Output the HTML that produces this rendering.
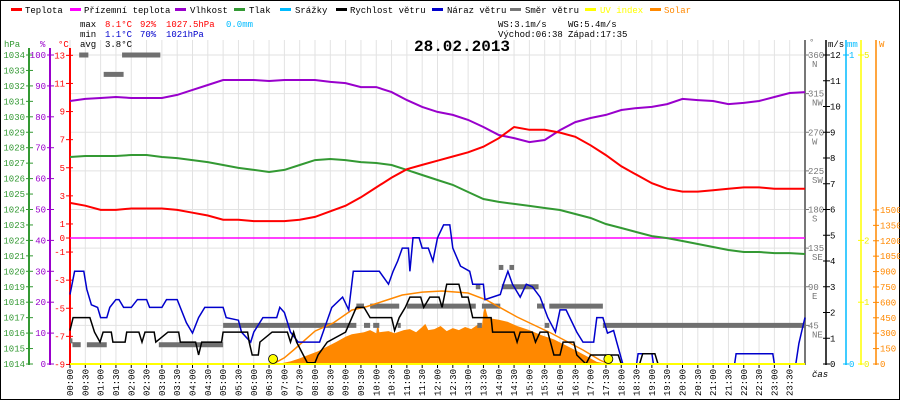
<!DOCTYPE html>
<html><head><meta charset="utf-8"><style>
html,body{margin:0;padding:0;background:#fff}
svg{display:block}
text{font-family:"Liberation Mono",monospace;font-size:9px}
</style></head><body>
<svg id="c" width="900" height="400" viewBox="0 0 900 400" xmlns="http://www.w3.org/2000/svg">
<rect x="0.5" y="0.5" width="899" height="399" fill="#fff" stroke="#000"/>
<g id="grid"></g>
<g id="legend">
<rect x="11" y="8" width="11" height="3" fill="#f00"/><text x="25" y="13">Teplota</text>
<rect x="70" y="8" width="11" height="3" fill="#f0f"/><text x="84" y="13">Přízemní teplota</text>
<rect x="175" y="8" width="11" height="3" fill="#90c"/><text x="190" y="13">Vlhkost</text>
<rect x="234" y="8" width="11" height="3" fill="#393"/><text x="249" y="13">Tlak</text>
<rect x="280" y="8" width="11" height="3" fill="#0bf"/><text x="295" y="13">Srážky</text>
<rect x="336" y="8" width="11" height="3" fill="#000"/><text x="350" y="13">Rychlost větru</text>
<rect x="432" y="8" width="11" height="3" fill="#00c"/><text x="447" y="13">Náraz větru</text>
<rect x="510" y="8" width="11" height="3" fill="#777"/><text x="525" y="13">Směr větru</text>
<rect x="585" y="8" width="11" height="3" fill="#ff0"/><text x="600" y="13" fill="#ff0">UV index</text>
<rect x="650" y="8" width="11" height="3" fill="#f80"/><text x="664" y="13" fill="#f80">Solar</text>
</g>
<g id="stats">
<text x="80" y="27">max</text><text x="105" y="27" fill="#f00">8.1°C</text><text x="140" y="27" fill="#f00">92%</text><text x="166" y="27" fill="#f00">1027.5hPa</text><text x="226" y="27" fill="#0bf">0.0mm</text>
<text x="80" y="37">min</text><text x="105" y="37" fill="#00c">1.1°C</text><text x="140" y="37" fill="#00c">70%</text><text x="166" y="37" fill="#00c">1021hPa</text>
<text x="80" y="47">avg</text><text x="105" y="47">3.8°C</text>
<text x="498" y="27">WS:3.1m/s</text><text x="568" y="27">WG:5.4m/s</text>
<text x="498" y="37">Východ:06:38</text><text x="568" y="37">Západ:17:35</text>
</g>
<text x="414" y="51" style="font-size:16px;font-weight:bold">28.02.2013</text>
<g id="axes"></g>
<g id="series"></g>
</svg>
<script>
const halfHours = Array.from({length:49},(_,i)=>i/2);
const tempValues=[2.5,2.3,2.0,2.0,2.1,2.1,2.1,2.0,1.8,1.6,1.3,1.3,1.2,1.2,1.2,1.3,1.5,1.9,2.3,2.9,3.6,4.3,4.9,5.2,5.5,5.8,6.1,6.5,7.1,7.9,7.7,7.7,7.5,7.2,6.6,5.9,5.1,4.5,3.9,3.5,3.3,3.3,3.4,3.5,3.6,3.6,3.5,3.5,3.5];
const humValues=[85.1,85.8,86.1,86.4,86.1,86.1,86.1,87.1,88.7,90.3,91.9,91.9,91.9,91.6,91.9,91.9,91.9,91.3,90.9,89.6,89.6,88.0,85.4,83.2,81.6,80.6,79.0,76.7,74.1,73.1,71.8,72.5,75.7,78.3,79.6,80.6,82.2,82.8,83.2,84.1,85.8,85.4,85.1,84.1,84.5,85.1,86.4,87.7,88.0];
const pressValues=[1027.4,1027.46,1027.46,1027.46,1027.53,1027.53,1027.4,1027.33,1027.2,1027.07,1026.88,1026.69,1026.56,1026.43,1026.56,1026.88,1027.2,1027.27,1027.2,1027.07,1027.01,1026.88,1026.56,1026.23,1025.91,1025.59,1025.13,1024.68,1024.49,1024.36,1024.23,1024.1,1023.97,1023.71,1023.45,1023.06,1022.8,1022.54,1022.28,1022.15,1021.96,1021.77,1021.57,1021.38,1021.25,1021.25,1021.18,1021.18,1021.12];
const groundTemp=0;
const speedTimes=[0,0.1,0.65,0.8,0.98,1.08,1.35,1.4,1.8,1.85,2.25,2.35,2.45,2.75,2.8,3.2,3.55,3.6,4.1,4.2,4.3,4.95,5.0,5.8,5.85,5.95,6.15,6.2,6.6,7.1,7.2,7.3,7.4,7.75,8.0,8.1,8.4,9.0,9.35,9.6,9.8,10.0,10.5,10.6,10.75,10.95,11.1,11.45,11.55,11.75,12.05,12.15,12.3,12.7,12.8,13.0,13.15,13.75,13.8,14.5,14.6,14.7,15.1,15.2,15.35,15.6,15.8,16.0,16.1,16.45,16.55,16.85,17.0,17.9,18.0,18.6,18.7,19.1,19.2,24];
const speedValues=[1.3,1.8,1.8,1.24,0.85,1.24,1.24,0.85,0.85,1.24,1.24,0.85,1.24,1.24,0.85,1.24,1.24,0.85,0.85,0.35,0.85,0.85,1.24,1.24,0.85,0.35,0.35,0.85,1.24,1.24,0.85,1.24,0.85,0.05,0.05,0.35,0.85,1.24,2.2,2.2,1.8,1.8,1.8,1.3,1.8,2.2,2.6,2.6,2.2,2.6,2.6,2.2,3.1,3.1,2.6,2.6,1.8,1.8,1.24,1.24,0.85,1.24,1.24,0.85,1.24,1.24,0.35,0.35,0.85,0.85,0.35,0,0.35,0.35,0,0,0.4,0.4,0,0];
const gustTimes=[0,0.15,0.45,0.55,0.7,0.9,1.0,1.2,1.3,1.5,1.6,1.75,2.0,2.2,2.5,2.6,3.0,3.15,3.5,3.8,4.0,4.2,4.4,5.0,5.1,5.5,5.6,5.9,6.0,6.3,6.75,6.85,7.0,7.2,7.45,7.75,8.15,8.55,8.9,9.1,9.25,10.1,10.4,10.55,10.7,10.85,11.05,11.1,11.2,11.4,11.5,11.7,11.85,12.0,12.2,12.4,12.5,12.75,13.05,13.15,13.5,13.55,14.05,14.15,14.3,14.45,14.7,14.9,15.1,15.35,15.6,15.85,16.0,16.2,16.55,16.75,17.1,17.2,17.4,17.55,17.75,17.85,18.05,18.5,18.55,19.0,19.05,21.7,21.75,22.95,23.0,23.7,23.8,23.9,24];
const gustValues=[2.7,3.6,3.6,2.9,2.3,2.2,1.8,1.8,2.2,2.5,2.5,2.2,2.2,2.5,2.5,2.2,2.2,2.5,2.5,1.6,1.2,1.8,2.2,2.2,1.8,1.7,1.24,0.85,1.24,1.8,1.8,2.2,2.0,1.24,0.85,0.85,0.85,2.2,2.6,2.1,3.6,3.6,3.1,3.6,4.0,4.5,4.5,3.6,4.9,4.9,4.5,4.5,4.0,4.9,5.4,5.4,4.5,3.8,3.6,3.1,3.1,2.5,2.7,3.1,3.6,3.1,2.6,3.1,3.0,2.6,1.8,1.24,2.1,2.1,1.24,0.85,0.85,1.8,1.8,1.2,1.3,0.85,0,0,0.4,0.4,0,0,0.4,0.4,0,0,0.8,1.3,1.8];
const dirStart=[0,0.08,0.55,2.9,5.0,9.6,9.9,10.7,9.35,9.8,11.0,13.45,15.25,15.65,13.3,15.5,17.4,13.25,14.1,14.0,14.35,0.3,1.7,1.1];
const dirEnd=[0.08,0.35,1.2,5.0,9.35,9.8,10.1,10.8,9.6,10.75,13.25,14.05,15.5,17.4,13.45,15.65,24,13.4,15.3,14.15,14.5,0.6,2.95,1.75];
const dirDeg=[27,22.5,22.5,22.5,45,45,45,45,67.5,67.5,67.5,67.5,67.5,67.5,45,45,45,90,90,112.5,112.5,360,360,337.5];
const solarTimes=[6.65,6.9,7.2,7.5,7.8,8.1,8.4,8.7,9.0,9.2,9.4,9.6,9.8,10.0,10.05,10.1,10.4,10.6,10.9,11.1,11.3,11.5,11.6,11.7,11.9,12.1,12.3,12.5,12.7,12.9,13.1,13.3,13.45,13.5,13.55,13.65,13.8,14.0,14.3,14.6,15.0,15.4,15.8,16.2,16.6,16.9,17.2,17.5,17.6];
const solarValues=[0,8,25,55,90,125,170,215,265,290,300,310,330,300,400,310,320,300,330,340,310,360,390,330,340,370,320,350,330,360,340,380,360,500,560,450,440,430,410,370,330,280,240,180,120,70,20,5,0];
const solarMaxTimes=[6.63,7.0,7.3,8.0,8.6,9.2,9.7,10.35,10.85,11.5,12.15,13.0,13.6,14.6,15.7,16.75,17.3,17.58];
const solarMaxValues=[0,60,136,320,400,525,560,623,672,700,711,691,623,458,302,136,39,0];
const uvTimes=[0,24];const uvValues=[0,0];
const sunMarks=[6.63,17.58];
const hpaTicks=[1014,1015,1016,1017,1018,1019,1020,1021,1022,1023,1024,1025,1026,1027,1028,1029,1030,1031,1032,1033,1034];
const humTicks=[0,10,20,30,40,50,60,70,80,90,100];
const tempTicks=[-9,-7,-5,-3,-1,0,1,3,5,7,9,11,13];
const degTicks=[45,90,135,180,225,270,315,360];
const degNames=['NE','E','SE','S','SW','W','NW','N'];
const msTicks=[0,1,2,3,4,5,6,7,8,9,10,11,12];
const uvTicks=[0,1,2,5];
const wTicks=[0,150,300,450,600,750,900,1050,1200,1350,1500];

const X=t=>70+t*30.625;
const yT=v=>238-v*14.05;
const yP=p=>55+(1034-p)*15.45;
const yH=h=>364-h*3.09;
const yW=v=>364-v*25.75;
const yD=d=>364-d*0.8583;
const yS=w=>364-w*0.1027;
const yUV=u=>364-u*61.8;
const NS='http://www.w3.org/2000/svg';
function mk(par,tag,at){const e=document.createElementNS(NS,tag);for(const k in at)e.setAttribute(k,at[k]);document.getElementById(par).appendChild(e);return e;}
function txt(par,x,y,s,fill,anchor){const e=mk(par,'text',{x:x,y:y,fill:fill,'text-anchor':anchor||'start'});e.textContent=s;return e;}

// grid
for(let i=0;i<=48;i++){const e=mk('grid','line',{x1:X(i/2),x2:X(i/2),y1:40,y2:364,stroke:'#e2e2e2'});

}
for(let k=0;k<8;k++){const y=55+k*38.625;const e=mk('grid','line',{x1:70,x2:805,y1:y,y2:y,stroke:'#e2e2e2'});

}

// left axes
mk('axes','line',{x1:29,x2:29,y1:48,y2:365,stroke:'#393',"stroke-width":2});
mk('axes','line',{x1:50,x2:50,y1:48,y2:365,stroke:'#90c',"stroke-width":2});
mk('axes','line',{x1:70,x2:70,y1:48,y2:365,stroke:'#f00',"stroke-width":2});
txt('axes',4,47,'hPa','#393');txt('axes',40,47,'%','#90c');txt('axes',58,47,'°C','#f00');
hpaTicks.forEach(v=>{const y=yP(v);mk('axes','line',{x1:26,x2:33,y1:y,y2:y,stroke:'#393'});const e=txt('axes',25,y+3,String(v),'#393','end');

});
humTicks.forEach(v=>{const y=yH(v);mk('axes','line',{x1:47,x2:54,y1:y,y2:y,stroke:'#90c'});const e=txt('axes',46,y+3,String(v),'#90c','end');

});
tempTicks.forEach(v=>{const y=yT(v);mk('axes','line',{x1:66,x2:73,y1:y,y2:y,stroke:'#f00'});const e=txt('axes',65,y+3,String(v),'#f00','end');

});
// right axes
mk('axes','line',{x1:805,x2:805,y1:40,y2:365,stroke:'#777',"stroke-width":2});
mk('axes','line',{x1:826,x2:826,y1:40,y2:365,stroke:'#000',"stroke-width":1.5});
mk('axes','line',{x1:846,x2:846,y1:40,y2:365,stroke:'#0bf',"stroke-width":1.5});
mk('axes','line',{x1:861,x2:861,y1:40,y2:365,stroke:'#ff0',"stroke-width":1.5});
mk('axes','line',{x1:876,x2:876,y1:40,y2:365,stroke:'#f80',"stroke-width":1.5});
txt('axes',809,45,'°','#777');txt('axes',828,47,'m/s','#000');txt('axes',847,47,'mm','#0bf');txt('axes',879,47,'W','#f80');
degTicks.forEach((v,i)=>{const y=yD(v);mk('axes','line',{x1:805,x2:809,y1:y,y2:y,stroke:'#777'});txt('axes',808,y+3,String(v),'#777');const e=txt('axes',812,y+12,degNames[i],'#777');

});
msTicks.forEach(v=>{const y=yW(v);mk('axes','line',{x1:823,x2:830,y1:y,y2:y,stroke:'#000'});const e=txt('axes',830,y+3,String(v),'#000');

});
[[0,364],[1,55]].forEach(a=>{mk('axes','line',{x1:843,x2:849,y1:a[1],y2:a[1],stroke:'#0bf'});txt('axes',849,a[1]+3,String(a[0]),'#0bf');});
uvTicks.forEach(v=>{const y=yUV(v);mk('axes','line',{x1:858,x2:864,y1:y,y2:y,stroke:'#ff0'});txt('axes',864,y+3,String(v),'#ee0');});
wTicks.forEach(v=>{const y=yS(v);mk('axes','line',{x1:873,x2:879,y1:y,y2:y,stroke:'#f80'});const e=txt('axes',880,y+3,String(v),'#f80');

});
// x axis
mk('axes','line',{x1:70,x2:805,y1:364,y2:364,stroke:'#000'});
for(let i=0;i<48;i++){const t=i/2,x=X(t);mk('axes','line',{x1:x,x2:x,y1:364,y2:368,stroke:'#000'});
const hh=String(Math.floor(t)).padStart(2,'0'),mm=i%2?'30':'00';
const e=txt('axes',0,0,hh+':'+mm,'#000','end');e.setAttribute('transform','translate('+(x+3)+',369) rotate(-90)');

}
const cas=txt('axes',812,377,'čas','#000');cas.setAttribute('font-style','italic');

// series
function pathPts(ts,vs,fx,fy){return ts.map((t,i)=>(i?'L':'M')+fx(t).toFixed(1)+','+fy(vs[i]).toFixed(1)).join(' ');}
let e;
e=mk('series','path',{d:pathPts(solarTimes,solarValues,X,yS)+' L'+X(solarTimes[solarTimes.length-1])+',364 L'+X(solarTimes[0])+',364 Z',fill:'#f80'});


dirDeg.forEach((d,i)=>{const s=mk('series','line',{x1:X(dirStart[i]),x2:X(dirEnd[i]),y1:yD(d),y2:yD(d),stroke:'#707070','stroke-width':5});

});
e=mk('series','path',{d:pathPts(solarMaxTimes,solarMaxValues,X,yS),fill:'none',stroke:'#f80','stroke-width':1.5});


e=mk('series','line',{x1:70,x2:805,y1:yT(groundTemp),y2:yT(groundTemp),stroke:'#f0f','stroke-width':1.5});


e=mk('series','path',{d:pathPts(halfHours,pressValues,X,yP),fill:'none',stroke:'#393','stroke-width':2});


e=mk('series','path',{d:pathPts(halfHours,humValues,X,yH),fill:'none',stroke:'#90c','stroke-width':2});


e=mk('series','path',{d:pathPts(halfHours,tempValues,X,yT),fill:'none',stroke:'#f00','stroke-width':2});


e=mk('series','path',{d:pathPts(gustTimes,gustValues,X,yW),fill:'none',stroke:'#00c','stroke-width':1.5});


e=mk('series','path',{d:pathPts(speedTimes,speedValues,X,yW),fill:'none',stroke:'#000','stroke-width':1.5});


e=mk('series','path',{d:pathPts(uvTimes,uvValues,X,yUV),fill:'none',stroke:'#ff0','stroke-width':2});


sunMarks.forEach(t=>{const c=mk('series','circle',{cx:X(t),cy:359,r:4.5,fill:'#ff0',stroke:'#000','stroke-width':0.8});

});
</script>
</body></html>
